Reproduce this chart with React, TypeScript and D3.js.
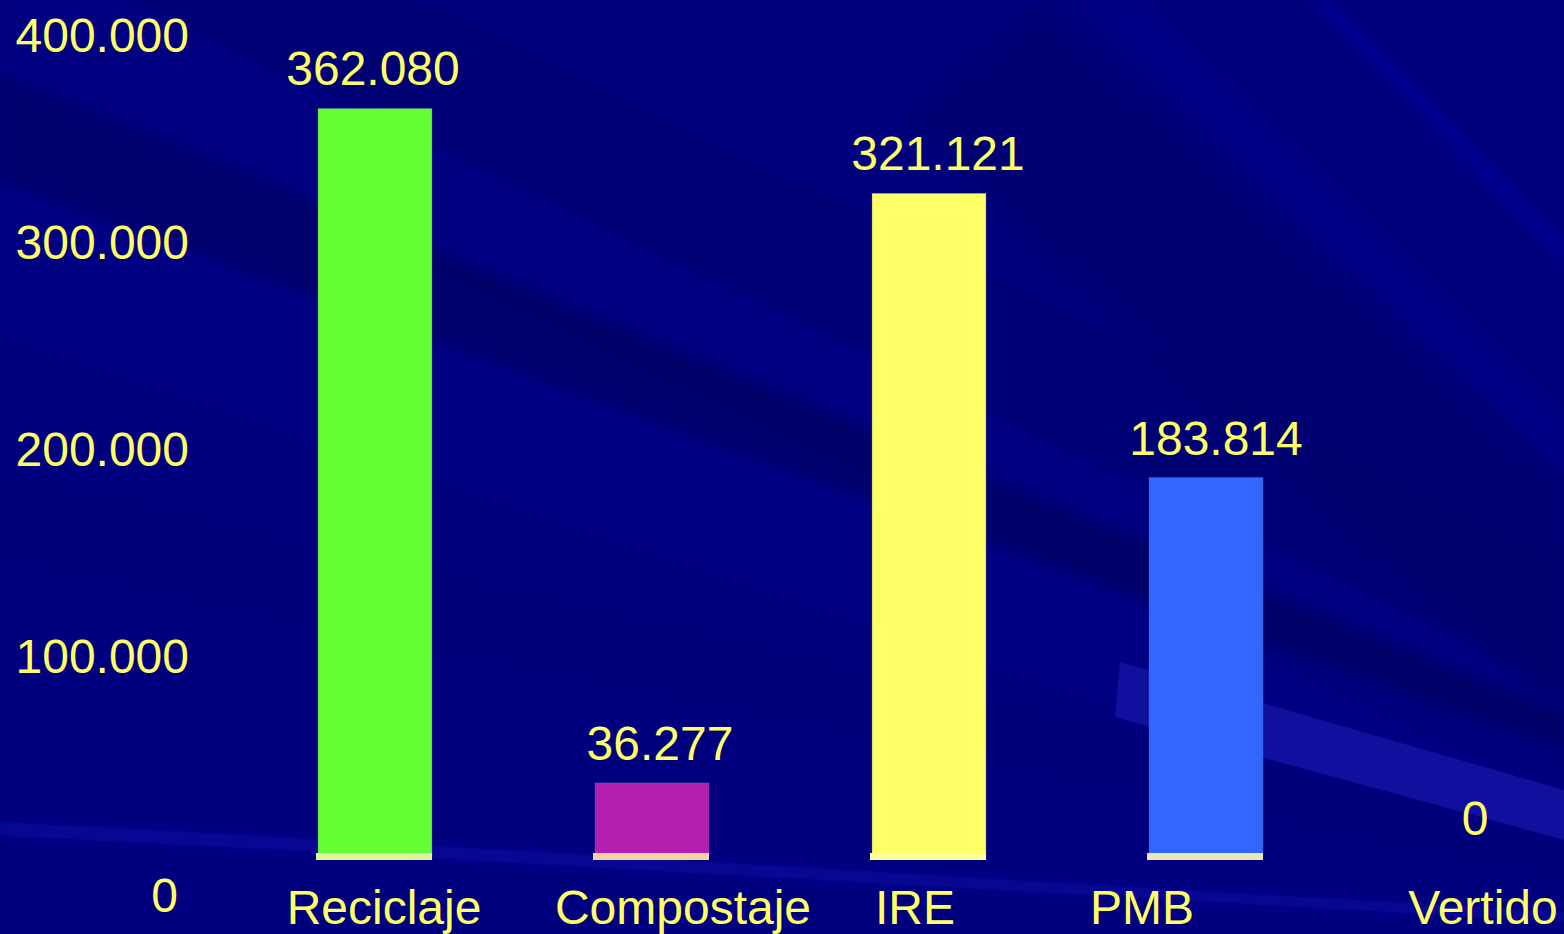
import React from 'react';
import * as d3 from 'd3';

const categories = ['Reciclaje', 'Compostaje', 'IRE', 'PMB', 'Vertido'];
const values = [362080, 36277, 321121, 183814, 0];
const valueLabels = ['362.080', '36.277', '321.121', '183.814', '0'];
const barColors = ['#66FF33', '#B21FB1', '#FFFF66', '#3366FF', '#3366FF'];
const baseColors = ['#E0F59A', '#F5D2A0', '#FFFF99', '#E8E8B8', '#E8E8B8'];
const yTicks = [0, 100000, 200000, 300000, 400000];
const yTickLabels = ['0', '100.000', '200.000', '300.000', '400.000'];

// small nudges so the text sits where the slide put it
const catDx = [9, 31, -14, -64, 0];
const valDx = [-2, 8, 9, 10, -8];

const W = 1564;
const H = 934;
const TEXT = '#FFFF66';
const FONT = '"Liberation Sans", Arial, sans-serif';

export default function App() {
  const y = d3.scaleLinear().domain([0, 400000]).range([858, 30]);
  const x = d3.scalePoint<string>().domain(categories).range([375, 1483]);
  const barW = 114;

  const band = (y0: number, y1: number, dy0: number, dy1: number) =>
    `M0,${y0} L${W},${y0 + dy0} L${W},${y1 + dy1} L0,${y1} Z`;

  return (
    <svg width={W} height={H} style={{ display: 'block', position: 'absolute', left: 0, top: 0 }}>
      <defs>
        <filter id="blur6" x="-10%" y="-10%" width="120%" height="120%"><feGaussianBlur stdDeviation="6" /></filter>
        <filter id="blur3" x="-10%" y="-10%" width="120%" height="120%"><feGaussianBlur stdDeviation="3" /></filter>
      </defs>
      {/* background */}
      <rect width={W} height={H} fill="#00007F" />
      <g>
        <path d={band(-200, 66, 750, 740)} fill="#00006A" opacity={0.45} filter="url(#blur3)" />
        <path d={band(72, 180, 640, 580)} fill="#000066" opacity={0.6} filter="url(#blur3)" />
        <path d={band(-64, 72, 750, 640)} fill="#00008E" opacity={0.5} filter="url(#blur6)" />
        <path d={band(190, 330, 560, 520)} fill="#000088" opacity={0.55} filter="url(#blur6)" />
        <path d={band(470, 560, 360, 320)} fill="#000074" opacity={0.45} filter="url(#blur6)" />
        <path d="M1040,0 L1564,480 L1564,720 L1200,400 L900,120 Z" fill="#000066" opacity={0.45} filter="url(#blur6)" />
        <path d="M1310,0 L1330,0 L1564,240 L1564,262 Z" fill="#00009C" opacity={0.6} filter="url(#blur3)" />
        <path d="M1080,0 L1140,0 L1564,420 L1564,470 Z" fill="#000096" opacity={0.3} filter="url(#blur6)" />
        <path d="M0,822 C300,836 700,862 1564,912 L1564,922 C700,874 300,850 0,836 Z" fill="#0A0AA6" opacity={0.6} filter="url(#blur3)" />
        <path d="M1120,662 L1564,790 L1564,840 L1115,717 Z" fill="#1414A6" opacity={0.8} />
      </g>

      {/* y axis labels */}
      <g fontFamily={FONT} fontSize={48} fill={TEXT}>
        {yTicks.map((t, i) => (
          <text
            key={t}
            x={t === 0 ? 178 : 189}
            y={t === 0 ? y(t) + 54 : y(t) + 22}
            textAnchor="end"
          >
            {yTickLabels[i]}
          </text>
        ))}
      </g>

      {/* bars */}
      <g>
        {categories.map((c, i) => {
          const cx = x(c)!;
          const top = y(values[i]);
          const h = y(0) - top;
          if (h <= 0) return null;
          return (
            <g key={c}>
              <rect x={cx - barW / 2} y={top} width={barW} height={h} fill={barColors[i]} stroke="#5a6aa8" strokeWidth={0.6} strokeOpacity={0.6} />
              <rect x={cx - barW / 2 - 2} y={y(0) - 5} width={barW + 2} height={7} fill={baseColors[i]} />
            </g>
          );
        })}
      </g>

      {/* value labels */}
      <g fontFamily={FONT} fontSize={48} fill={TEXT} textAnchor="middle">
        {categories.map((c, i) => (
          <text key={c} x={x(c)! + valDx[i]} y={y(values[i]) - 23}>
            {valueLabels[i]}
          </text>
        ))}
      </g>

      {/* category labels */}
      <g fontFamily={FONT} fontSize={48} fill={TEXT} textAnchor="middle">
        {categories.map((c, i) => (
          <text key={c} x={x(c)! + catDx[i]} y={924}>
            {c}
          </text>
        ))}
      </g>
    </svg>
  );
}
